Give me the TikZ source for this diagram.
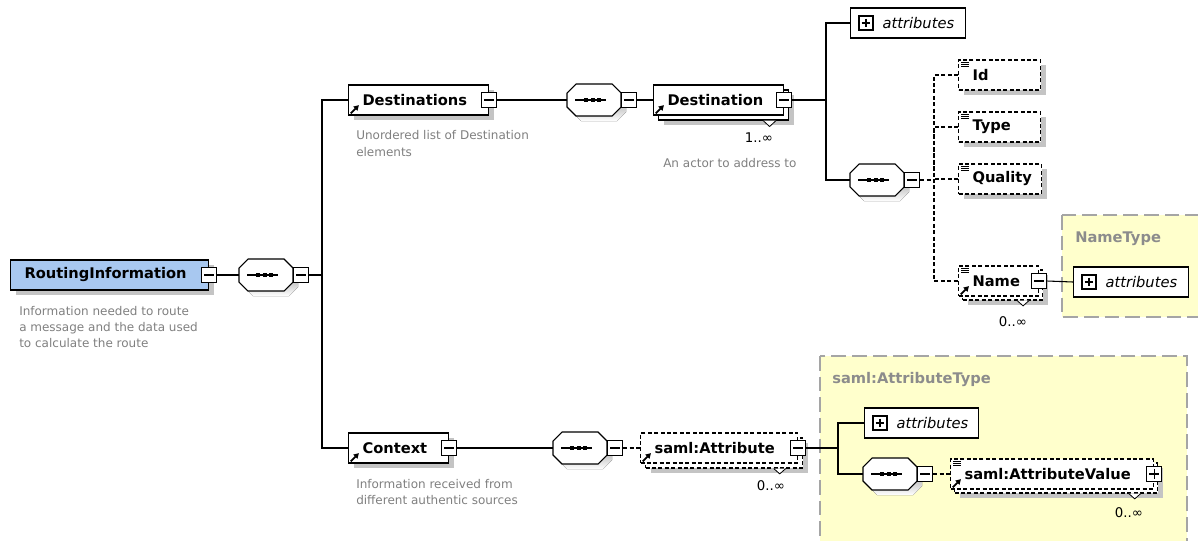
\documentclass[tikz,border=0pt]{standalone}
\usepackage{fontspec}
\setmainfont{DejaVu Sans}
\usetikzlibrary{shadows,calc,arrows.meta}
\definecolor{shade}{RGB}{196,196,196}
\definecolor{riblue}{RGB}{168,200,240}
\definecolor{pale}{RGB}{255,255,204}
\definecolor{regborder}{RGB}{165,165,165}
\definecolor{desccol}{RGB}{128,128,128}
\definecolor{reglblcol}{RGB}{140,140,140}

\newcommand\myRefArrow{\draw[solid,line width=1.3pt,-{Triangle[length=3.8pt,width=4.2pt]}] ([shift={(1.6pt,1.2pt)}]path picture bounding box.south west) -- ++(6.2pt,6.2pt);}
\newcommand\mySimpLines{\foreach \k in {0,1,2}{\draw[solid,line width=0.5pt] ([shift={(2.2pt,{-2.0pt-1.4pt*\k})}]path picture bounding box.north west) -- ++(5.5pt,0);}}
\newcommand\myLbl[2]{\makebox[#1][l]{\hspace*{10.5pt}#2}}
\newcommand\myAtt[1]{\makebox[#1][l]{\hspace*{24pt}attributes}}
\newcommand\myOct[5]{({#1},{#2+#5}) -- ({#1+#5},{#2}) -- ({#1+#3-#5},{#2}) -- ({#1+#3},{#2+#5}) -- ({#1+#3},{#2+#4-#5}) -- ({#1+#3-#5},{#2+#4}) -- ({#1+#5},{#2+#4}) -- ({#1},{#2+#4-#5}) -- cycle}
\newcommand\mySeq[3]{%
  \node[seqhold] (#1) at ({#2+27},#3) {};
  \fill[shade] \myOct{#2+5}{#3-16+5}{54}{32}{9};
  \draw[line width=0.8pt, fill=white] \myOct{#2}{#3-16}{54}{32}{9};
  \draw[line width=0.8pt] ({#2+8},#3) -- ({#2+39},#3);
  \fill ({#2+17},{#3-2}) rectangle ({#2+21},{#3+2});
  \fill ({#2+23.5},{#3-2}) rectangle ({#2+27.5},{#3+2});
  \fill ({#2+30},{#3-2}) rectangle ({#2+34},{#3+2});
  \node[mbox] (#1M) at ({#2+62},#3) {};
}

\tikzset{
  conn/.style={line width=0.8pt},
  dconn/.style={line width=0.8pt, dash pattern=on 3pt off 1.8pt},
  shad/.style={drop shadow={shadow xshift=3.75pt, shadow yshift=-3.75pt, opacity=1, fill=shade}},
  elem/.style={draw, line width=0.8pt, fill=white, minimum height=22.5pt, inner sep=0pt, font=\bfseries\fontsize{11}{13}\selectfont},
  delem/.style={elem, dash pattern=on 3pt off 1.8pt},
  attbox/.style={draw, line width=0.8pt, fill=white, minimum height=22.5pt, inner sep=0pt, font=\itshape\fontsize{11}{13}\selectfont},
  refico/.style={path picture={\myRefArrow}},
  simpico/.style={path picture={\mySimpLines}},
  refsimpico/.style={path picture={\myRefArrow\mySimpLines}},
  mbox/.style={draw, solid, line width=0.8pt, fill=white, minimum size=11.6pt, inner sep=0pt,
    path picture={\draw[solid, line width=0.8pt] ([xshift=2.2pt]path picture bounding box.west) -- ([xshift=-2.2pt]path picture bounding box.east);}},
  pbox/.style={draw, solid, line width=0.8pt, fill=white, minimum size=10.5pt, inner sep=0pt,
    path picture={\draw[solid, line width=0.8pt] ([xshift=2.0pt]path picture bounding box.west) -- ([xshift=-2.0pt]path picture bounding box.east);
      \draw[solid, line width=0.8pt] ([yshift=-2.0pt]path picture bounding box.north) -- ([yshift=2.0pt]path picture bounding box.south);}},
  epbox/.style={pbox, minimum size=11.6pt},
  seqhold/.style={minimum width=40.5pt, minimum height=24pt, inner sep=0pt},
  desc/.style={font=\fontsize{9}{11}\selectfont, text=desccol, inner sep=0pt, anchor=base west},
  mult/.style={font=\fontsize{10}{12}\selectfont, inner sep=0pt},
  reglbl/.style={font=\bfseries\fontsize{11}{13}\selectfont, text=reglblcol, inner sep=0pt, anchor=base west},
  region/.style={fill=pale, draw=regborder, line width=1.2pt, dash pattern=on 11pt off 4.5pt},
  notch/.style={line width=0.6pt, fill=white},
}

\begin{document}
\begin{tikzpicture}[x=0.75pt,y=-0.75pt]
\clip (0,0) rectangle (1198,540);
\fill[white] (0,0) rectangle (1198,540);

% type regions
\draw[region] (1062,215) rectangle (1215,317);
\node[reglbl] (ntl) at (1075,242) {NameType};
\draw[region] (820,356) rectangle (1187,560);
\node[reglbl] (atl) at (832,383) {saml:AttributeType};

% root
\node[elem, fill=riblue, shad, anchor=west] (ri) at (10,275) {\myLbl{148.5pt}{RoutingInformation}};
\node[mbox] (riM) at (ri.east) {};
\node[desc] (rid1) at (19,315) {Information needed to route};
\node[desc] (rid2) at (19,331) {a message and the data used};
\node[desc] (rid3) at (19,347) {to calculate the route};

\mySeq{s1}{239}{275}
\coordinate (j1) at (322,275);

% Destinations
\node[elem, shad, refico, anchor=west] (dests) at (348,100) {\myLbl{105pt}{Destinations}};
\node[mbox] (destsM) at (dests.east) {};
\node[desc] (destsd1) at (356,139) {Unordered list of Destination};
\node[desc] (destsd2) at (356,156) {elements};

\mySeq{s2}{567}{100}

\node[elem, shad, anchor=west, minimum width=97.5pt] (destB) at (658,105) {};
\draw[notch] ([xshift=-19.5pt]destB.south east) -- ([xshift=-14.6pt,yshift=-4.5pt]destB.south east) -- ([xshift=-9.75pt]destB.south east);
\node[elem, refico, anchor=west] (dest) at (653,100) {\myLbl{97.5pt}{Destination}};
\node[mbox] (destM) at (dest.east) {};
\node[mult] (destMul) at (759,138) {1..∞};
\node[desc] (destd) at (663,167) {An actor to address to};

\coordinate (j2) at (826,100);
\node[attbox, anchor=west] (att1) at (850,23) {\myAtt{86.25pt}};
\node[pbox] (att1P) at ([xshift=12pt]att1.west) {};

\mySeq{s3}{850}{180}
\coordinate (j3) at (934,180);

\node[delem, shad, simpico, anchor=west] (id) at (958,75) {\myLbl{61.5pt}{Id}};
\node[delem, shad, simpico, anchor=west] (type) at (958,127) {\myLbl{61.5pt}{Type}};
\node[delem, shad, simpico, anchor=west] (qual) at (958,179) {\myLbl{62.25pt}{Quality}};

\node[delem, shad, anchor=west, minimum width=60pt] (nameB) at (962,285) {};
\draw[notch] ([xshift=-19.5pt]nameB.south east) -- ([xshift=-15pt,yshift=-4pt]nameB.south east) -- ([xshift=-10.5pt]nameB.south east);
\node[delem, refsimpico, anchor=west] (name) at (958,281) {\myLbl{60pt}{Name}};
\node[mbox] (nameM) at (name.east) {};
\node[mult] (nameMul) at (1013,322) {0..∞};

\node[attbox, anchor=west] (att2) at (1073,282) {\myAtt{86.25pt}};
\node[pbox] (att2P) at ([xshift=12pt]att2.west) {};

% Context
\node[elem, shad, refico, anchor=west] (ctx) at (348,448) {\myLbl{75pt}{Context}};
\node[mbox] (ctxM) at (ctx.east) {};
\node[desc] (ctxd1) at (356,488) {Information received from};
\node[desc] (ctxd2) at (356,504) {different authentic sources};

\mySeq{s4}{553}{448}

\node[delem, shad, anchor=west, minimum width=117.75pt] (sattrB) at (645,453) {};
\draw[notch] ([xshift=-22pt]sattrB.south east) -- ([xshift=-17.5pt,yshift=-4pt]sattrB.south east) -- ([xshift=-13pt]sattrB.south east);
\node[delem, refico, anchor=west] (sattr) at (640,448) {\myLbl{117.75pt}{saml:Attribute}};
\node[mbox] (sattrM) at (sattr.east) {};
\node[mult] (sattrMul) at (771,486) {0..∞};

\coordinate (j4) at (838,448);
\node[attbox, anchor=west] (att3) at (864,423) {\myAtt{85.5pt}};
\node[pbox] (att3P) at ([xshift=12pt]att3.west) {};

\mySeq{s5}{863}{474}

\node[delem, shad, anchor=west, minimum width=152.25pt] (savB) at (954,478) {};
\draw[notch] ([xshift=-22pt]savB.south east) -- ([xshift=-17.5pt,yshift=-4pt]savB.south east) -- ([xshift=-13pt]savB.south east);
\node[delem, refsimpico, anchor=west] (sav) at (950,474) {\myLbl{152.25pt}{saml:AttributeValue}};
\node[epbox] (savP) at (sav.east) {};
\node[mult] (savMul) at (1129,513) {0..∞};

% connectors
\draw[conn] (riM.east) -- (s1.west);
\draw[conn] (s1M.east) -- (j1);
\draw[conn] (dests.west) -| (j1) |- (ctx.west);
\draw[conn] (destsM.east) -- (s2.west);
\draw[conn] (s2M.east) -- (dest.west);
\draw[conn] (destM.east) -- (j2);
\draw[conn] (att1.west) -| (j2) |- (s3.west);
\draw[dconn] (s3M.east) -- (j3);
\draw[dconn] (id.west) -| (j3) |- (name.west);
\draw[dconn] (type.west) -| (j3);
\draw[dconn] (qual.west) -| (j3);
\draw[conn] (nameM.east) -- (att2.west);
\draw[conn] (ctxM.east) -- (s4.west);
\draw[dconn] (s4M.east) -- (sattr.west);
\draw[conn] (sattrM.east) -- (j4);
\draw[conn] (att3.west) -| (j4) |- (s5.west);
\draw[dconn] (s5M.east) -- (sav.west);
\end{tikzpicture}
\end{document}
